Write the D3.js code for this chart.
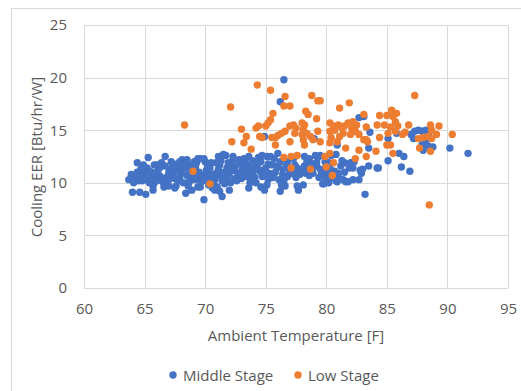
<!DOCTYPE html>
<html>
<head>
<meta charset="utf-8">
<script src="https://cdn.jsdelivr.net/npm/d3@7"></script>
<style>
  html, body { margin: 0; padding: 0; background: #fff; }
  svg { display: block; }
  text { font-family: "Open Sans", "Noto Sans", sans-serif; fill: #595959; }
</style>
</head>
<body>
<svg id="chart" width="521" height="391"></svg>
<script>
// Axis ticks
const xTicks = [60, 65, 70, 75, 80, 85, 90, 95];
const yTicks = [0, 5, 10, 15, 20, 25];

// Series names and colours
const seriesNames = ["Middle Stage", "Low Stage"];
const seriesColors = ["#4472C4", "#ED7D31"];

// Middle Stage: [ambient temperature (F), cooling EER]
const middleStage = [
  [76.5,19.8],[76.2,17.7],[74.9,14.4],[79.0,14.2],[80.9,13.6],[82.7,16.2],[83.1,16.3],[83.6,14.8],
  [83.5,13.3],[83.2,8.9],[85.1,14.2],[85.1,12.1],[85.8,14.7],[86.0,12.8],[86.4,12.5],[86.2,11.5],
  [86.9,11.1],[87.2,14.2],[87.0,14.6],[87.3,14.9],[87.6,15.0],[87.9,14.9],[88.2,15.0],[88.5,14.8],
  [87.9,13.6],[88.2,13.8],[88.0,13.1],[88.4,13.5],[88.8,13.4],[90.2,13.3],[91.7,12.8],[84.2,11.4],
  [83.5,11.6],[84.3,11.4],[82.8,11.2],[82.9,10.9],[82.7,10.3],[82.2,11.4],[82.2,10.3],[81.5,11.9],
  [81.6,10.1],[81.4,10.3],[80.8,12.7],[80.7,11.1],[80.8,10.2],[80.6,10.8],[80.2,10.0],[79.7,9.9],
  [79.6,10.9],[79.5,12.6],[79.9,12.0],[79.2,11.6],[78.9,10.9],[78.7,11.9],[78.2,12.5],[78.1,9.8],
  [77.7,9.3],[77.3,10.9],[77.0,11.2],[76.7,11.6],[76.3,9.8],[76.2,9.2],[76.0,12.8],[75.9,11.6],
  [75.6,10.6],[75.1,9.8],[74.9,9.3],[74.7,12.6],[75.1,12.5],[74.8,11.2],[74.3,11.6],[74.0,11.4],
  [74.2,10.0],[73.6,12.5],[73.4,10.6],[73.6,9.5],[72.9,11.9],[72.7,10.9],[72.3,12.5],[72.0,9.3],
  [72.0,10.9],[71.5,12.7],[71.1,12.5],[71.4,8.7],[71.2,9.2],[70.8,9.3],[70.7,10.8],[69.9,8.4],
  [69.6,12.3],[69.4,9.6],[68.9,9.3],[68.4,9.0],[68.5,12.2],[68.1,12.2],[67.7,11.7],[67.5,9.5],
  [66.7,12.5],[66.6,9.6],[65.7,9.3],[65.3,12.4],[65.1,8.9],[64.6,9.1],[64.4,11.9],[64.0,9.1],
  [63.7,10.3],[63.9,10.8],[64.1,10.0],
  [64.2,10.5],[64.4,11.0],[64.3,10.6],[64.5,10.2],
  [64.8,10.2],[64.9,10.6],[65.0,11.0],[65.2,11.4],[64.9,11.7],[65.4,10.0],[65.3,11.2],[65.5,10.7],
  [65.7,9.7],[65.8,10.0],[65.9,10.4],[66.0,10.8],[66.1,11.1],[66.2,11.4],[65.8,11.7],[66.3,10.6],
  [66.4,11.9],[66.0,10.2],
  [66.6,9.9],[66.8,10.3],[66.9,10.6],[67.0,11.0],[67.1,11.3],[66.7,11.6],[67.2,12.0],[67.3,10.8],
  [67.4,11.8],[67.0,9.7],
  [67.6,9.7],[67.8,10.2],[67.9,10.5],[68.0,10.9],[68.1,11.3],[68.3,11.7],[67.9,12.0],[68.4,11.5],
  [68.2,10.0],[67.7,11.1],
  [68.6,9.7],[68.7,10.1],[68.8,10.4],[69.0,10.8],[69.2,11.5],[69.3,11.9],[69.4,12.3],[69.1,12.0],
  [69.2,10.3],[68.9,11.2],
  [69.6,9.6],[69.7,10.1],[69.8,10.4],[70.0,10.8],[70.1,11.2],[70.2,11.6],[70.0,12.0],[69.9,12.3],
  [70.3,11.0],[70.4,10.6],[70.2,10.2],
  [70.6,9.5],[70.7,9.9],[70.8,10.3],[70.9,10.6],[71.0,11.0],[71.1,11.3],[71.2,11.7],[71.3,10.8],
  [71.4,10.2],[71.0,9.6],
  [71.6,9.9],[71.7,10.2],[71.8,10.5],[71.9,10.8],[72.0,11.1],[72.1,11.5],[72.2,11.8],[72.3,12.2],
  [71.7,12.6],[72.4,10.4],[71.6,11.0],[72.1,10.0],
  [72.6,10.2],[72.8,10.5],[72.9,10.8],[73.0,11.1],[73.1,11.5],[73.2,12.3],[72.7,10.6],[73.4,11.3],
  [73.3,12.0],
  [73.7,10.0],[73.8,10.4],[73.9,10.8],[74.0,11.2],[74.1,11.6],[74.2,12.0],[74.4,12.4],[74.3,11.4],
  [73.6,11.0],
  [74.6,9.6],[74.7,10.6],[74.8,11.0],[75.0,11.4],[75.2,11.8],[75.4,12.5],[75.3,10.9],
  [75.6,10.5],[75.8,11.0],[76.0,11.5],[76.2,12.0],[76.4,10.8],[76.1,10.3],
  [76.6,9.7],[76.8,10.6],[77.0,11.0],[77.2,11.3],[77.4,11.7],[77.3,12.3],[77.1,10.9],
  [77.6,9.7],[77.8,10.8],[78.0,11.3],[78.2,11.6],[78.4,12.0],[77.9,11.0],
  [78.6,10.7],[78.8,11.1],[79.0,11.5],[79.2,11.9],[79.3,12.4],[79.1,12.6],[79.4,10.5],
  [79.8,9.9],[80.0,10.3],[80.1,10.9],[80.3,11.4],[80.2,11.9],[80.4,12.6],[79.7,10.6],
  [80.9,10.1],[81.0,10.9],[81.2,11.6],[81.1,10.4],[81.3,12.1],
  [81.8,10.1],[82.0,11.9],[81.9,11.4],[82.3,12.0],
  [83.0,11.3],
  [64.6,10.9],[65.1,10.4],[65.6,11.0],[66.3,11.5],[66.5,10.1],[67.3,11.4],[67.5,10.4],[68.0,11.6],
  [68.5,10.7],[68.8,11.7],[69.5,11.0],[69.5,10.7],[70.5,11.9],[70.4,11.4],[70.9,11.9],[71.3,12.1],
  [71.5,10.6],[71.9,11.9],[72.5,11.6],[72.8,12.2],[73.0,10.4],[73.5,11.7],[73.9,12.1],[74.5,11.1],
  [74.6,12.0],[75.0,10.8],[75.5,11.7],[75.7,12.3],[76.4,11.3],[76.8,12.0],[77.6,11.4],[78.5,11.4],
  [78.3,10.9],[79.5,11.3],[80.0,11.6],[80.5,10.5],[81.5,11.0],[70.6,10.6],[69.0,11.5],[67.0,10.3],
  [66.0,11.7],[65.3,10.2],[68.6,10.9],[71.8,11.4],[73.3,10.9],[74.1,10.5],[76.5,10.2],[77.5,10.5],
  [64.7,11.3],[66.4,10.4],[67.7,11.4],[70.3,9.8],[72.4,11.2],[75.2,10.3],[76.9,11.4],[78.6,12.3],
  [79.8,11.1]
];

// Low Stage: [ambient temperature (F), cooling EER]
const lowStage = [
  [68.3,15.5],[69.0,11.1],[70.4,9.9],[72.1,17.2],[72.2,13.9],[73.0,15.1],[73.2,13.8],[73.4,14.4],
  [73.8,13.2],[74.3,19.3],[74.2,15.2],[74.4,15.4],[74.5,14.4],[74.7,14.3],[75.4,18.8],[75.0,15.4],
  [75.2,15.7],[75.4,16.0],[75.6,16.6],[75.5,14.3],[75.8,13.6],[75.8,14.3],[76.0,14.5],[76.3,14.7],
  [76.5,17.3],[76.6,18.2],[77.0,17.3],[76.5,12.4],[76.6,14.9],[77.0,13.9],[77.1,11.4],[77.1,12.5],
  [77.0,15.4],[77.3,15.5],[77.5,15.2],[77.4,14.7],[77.6,12.6],[78.0,15.7],[78.2,15.5],[78.1,15.1],
  [78.4,14.7],[78.0,14.6],[78.7,14.4],[78.1,14.1],[78.2,13.6],[78.3,16.8],[78.5,16.5],[78.7,11.3],
  [78.8,18.3],[79.3,17.8],[79.5,17.8],[79.2,16.1],[79.3,14.9],[78.9,14.1],[79.5,13.9],[79.9,12.5],
  [80.0,11.5],[80.3,15.7],[80.6,15.4],[80.7,15.0],[80.3,14.9],[80.4,14.3],[80.9,13.9],[80.3,13.8],
  [80.3,12.8],[80.5,10.7],[80.6,11.9],[81.0,15.5],[81.3,15.2],[81.5,15.4],[81.4,14.7],[81.1,14.4],
  [81.1,17.1],[81.6,13.3],[81.8,15.7],[82.1,15.2],[82.2,15.8],[82.4,14.9],[82.0,14.6],[81.9,17.6],
  [82.5,15.5],[82.4,12.3],[82.7,14.6],[82.7,13.1],[83.1,16.5],[83.1,14.1],[83.3,14.1],[83.4,13.9],
  [83.3,15.3],[83.3,12.5],[84.1,13.0],[84.2,15.5],[84.4,16.4],[84.4,14.3],[84.8,15.5],[85.0,16.4],
  [85.0,13.6],[85.3,13.6],[85.1,14.7],[85.4,16.9],[85.5,16.3],[85.7,15.8],[85.8,16.6],[85.5,12.8],
  [85.7,14.9],[85.3,15.3],[85.9,15.4],[86.3,14.6],[86.5,14.8],[86.8,15.5],[87.3,18.3],[87.6,14.2],
  [87.7,13.3],[88.0,14.3],[88.4,14.4],[88.6,15.5],[88.7,15.0],[88.6,13.0],[88.5,7.9],[88.7,14.2],
  [89.1,14.6],[89.3,15.4],[90.4,14.6]
];

const xTitle = "Ambient Temperature [F]";
const yTitle = "Cooling EER [Btu/hr/W]";

const svg = d3.select("#chart");
const W = 521, H = 391;
const plot = { left: 84, right: 508, top: 25, bottom: 288 };
const fontSize = "15px";

// Outer chart frame
svg.append("rect")
  .attr("x", 11.5).attr("y", 8.5)
  .attr("width", W).attr("height", H)
  .attr("fill", "#fff").attr("stroke", "#d9d9d9");

const x = d3.scaleLinear().domain([60, 95]).range([plot.left, plot.right]);
const y = d3.scaleLinear().domain([0, 25]).range([plot.bottom, plot.top]);

// Gridlines
const grid = svg.append("g").attr("stroke", "#d9d9d9").attr("stroke-width", 1);
grid.selectAll("line.v").data(xTicks).join("line")
  .attr("class", "v")
  .attr("x1", d => Math.round(x(d)) + 0.5).attr("x2", d => Math.round(x(d)) + 0.5)
  .attr("y1", plot.top).attr("y2", plot.bottom);
grid.selectAll("line.h").data(yTicks).join("line")
  .attr("class", "h")
  .attr("x1", plot.left).attr("x2", plot.right)
  .attr("y1", d => Math.round(y(d)) + 0.5).attr("y2", d => Math.round(y(d)) + 0.5);

// Axes (labels only; lines come from the grid)
const xAxis = svg.append("g")
  .attr("transform", `translate(0,${plot.bottom})`)
  .call(d3.axisBottom(x).tickValues(xTicks).tickSize(0).tickPadding(15));
const yAxis = svg.append("g")
  .attr("transform", `translate(${plot.left},0)`)
  .call(d3.axisLeft(y).tickValues(yTicks).tickSize(0).tickPadding(17));
[xAxis, yAxis].forEach(g => {
  g.select(".domain").remove();
  g.selectAll("text")
    .style("font-family", '"Open Sans", "Noto Sans", sans-serif')
    .style("font-size", fontSize)
    .attr("fill", "#595959");
});

// Axis titles
svg.append("text")
  .attr("x", (plot.left + plot.right) / 2).attr("y", 341)
  .attr("text-anchor", "middle")
  .style("font-size", fontSize)
  .text(xTitle);
svg.append("text")
  .attr("transform", `translate(42,157) rotate(-90)`)
  .attr("text-anchor", "middle")
  .style("font-size", fontSize)
  .text(yTitle);

// Points
const series = [middleStage, lowStage];
series.forEach((data, i) => {
  svg.append("g").selectAll("circle").data(data).join("circle")
    .attr("cx", d => x(d[0]))
    .attr("cy", d => y(d[1]))
    .attr("r", 3.7)
    .attr("fill", seriesColors[i]);
});

// Legend
const legendItems = [
  { name: seriesNames[0], color: seriesColors[0], cx: 173 },
  { name: seriesNames[1], color: seriesColors[1], cx: 298 }
];
const legend = svg.append("g");
legendItems.forEach(item => {
  legend.append("circle")
    .attr("cx", item.cx).attr("cy", 375).attr("r", 3.7)
    .attr("fill", item.color);
  legend.append("text")
    .attr("x", item.cx + 10).attr("y", 380.5)
    .style("font-size", fontSize)
    .text(item.name);
});
</script>
</body>
</html>
